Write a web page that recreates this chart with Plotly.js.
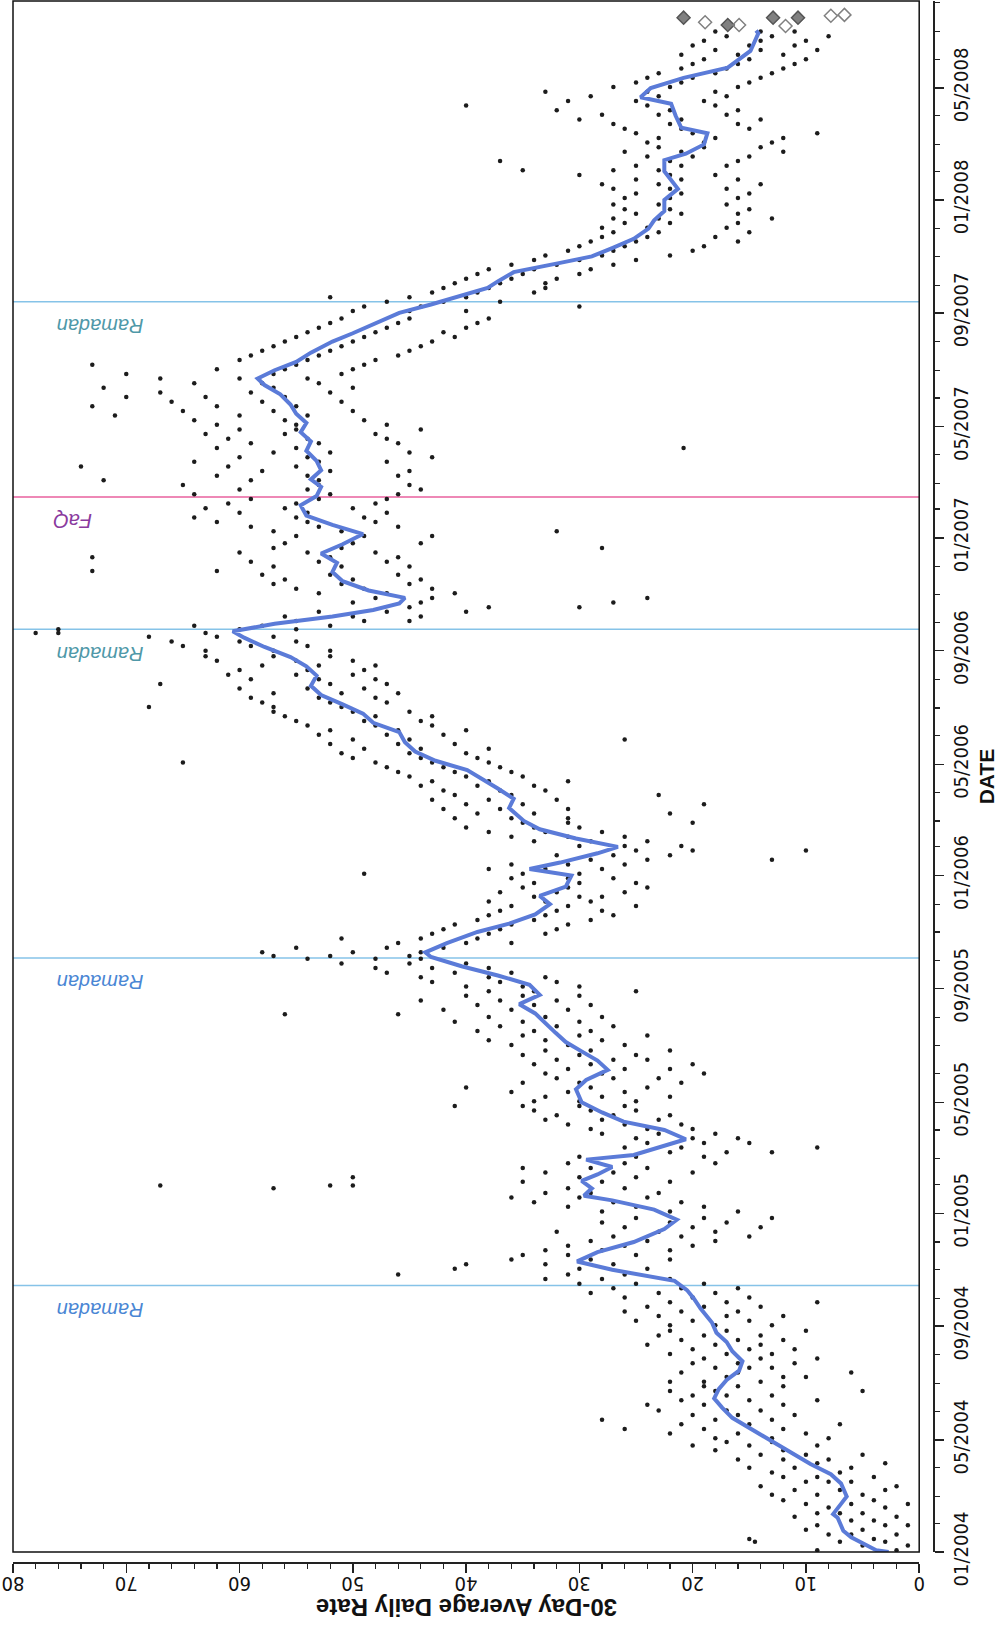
<!DOCTYPE html>
<html>
<head>
<meta charset="utf-8">
<script src="https://cdn.plot.ly/plotly-3.0.1.min.js"></script>
<style>
html,body{margin:0;padding:0;background:#fff;}
#chart{width:1002px;height:1627px;}
</style>
</head>
<body>
<div id="chart"></div>
<script>
// 30-day average (blue line)
const avgDates = [
"2004-01-01","2004-01-03","2004-01-17","2004-01-24","2004-02-07","2004-02-11","2004-02-22","2004-03-01","2004-03-15","2004-03-25",
"2004-04-05","2004-04-15","2004-04-25","2004-05-05","2004-05-15","2004-05-25","2004-06-05","2004-06-15","2004-06-25","2004-07-05",
"2004-07-15","2004-07-25","2004-08-05","2004-08-15","2004-08-25","2004-09-05","2004-09-20","2004-10-01","2004-10-10","2004-10-20",
"2004-11-01","2004-11-10","2004-11-20","2004-12-01","2004-12-15","2004-12-25","2005-01-05","2005-01-15","2005-01-20","2005-01-28",
"2005-02-05","2005-02-12","2005-02-20","2005-02-28","2005-03-05","2005-03-15","2005-03-22","2005-04-01","2005-04-10","2005-04-20",
"2005-05-01","2005-05-15","2005-05-25","2005-06-05","2005-06-15","2005-06-25","2005-07-05","2005-07-15","2005-07-25","2005-08-05",
"2005-08-15","2005-08-25","2005-09-05","2005-09-15","2005-09-25","2005-10-05","2005-10-10","2005-10-20","2005-11-01","2005-11-10",
"2005-11-20","2005-12-01","2005-12-10","2005-12-20","2006-01-01","2006-01-08","2006-01-15","2006-01-25","2006-02-01","2006-02-10",
"2006-02-20","2006-03-01","2006-03-15","2006-03-25","2006-04-05","2006-04-15","2006-04-25","2006-05-05","2006-05-15","2006-05-25",
"2006-06-05","2006-06-15","2006-06-25","2006-07-05","2006-07-15","2006-07-25","2006-08-05","2006-08-15","2006-08-25","2006-09-05",
"2006-09-15","2006-09-22","2006-09-30","2006-10-08","2006-10-15","2006-10-22","2006-10-28","2006-11-05","2006-11-15","2006-11-25",
"2006-12-05","2006-12-15","2006-12-25","2007-01-05","2007-01-15","2007-01-25","2007-02-05","2007-02-15","2007-02-25","2007-03-05",
"2007-03-15","2007-03-25","2007-04-05","2007-04-15","2007-04-25","2007-05-05","2007-05-15","2007-05-25","2007-06-05","2007-06-15",
"2007-06-22","2007-07-01","2007-07-10","2007-07-20","2007-08-01","2007-08-10","2007-08-20","2007-09-01","2007-09-10","2007-09-20",
"2007-09-28","2007-10-05","2007-10-15","2007-10-25","2007-11-01","2007-11-10","2007-11-20","2007-12-01","2007-12-10","2007-12-20",
"2008-01-01","2008-01-13","2008-02-01","2008-02-13","2008-02-20","2008-03-01","2008-03-13","2008-03-19","2008-04-01","2008-04-14",
"2008-04-21","2008-05-01","2008-05-12","2008-05-23","2008-06-10","2008-06-29","2008-07-02"
];
const avgValues = [
2.7,3.8,6.0,6.7,7.2,7.6,6.9,6.4,6.9,7.8,
9.6,11.0,12.4,13.8,15.1,16.5,17.4,18.1,17.7,17.0,
15.9,15.6,16.5,17.0,17.9,18.3,19.3,19.9,20.5,21.6,
27.1,30.2,28.4,25.2,22.5,21.4,23.4,27.1,29.6,28.9,
29.8,28.4,27.1,29.4,25.2,22.5,20.6,22.5,26.1,28.0,
29.8,30.3,29.4,27.5,28.4,29.8,31.2,32.1,33.0,33.9,
35.3,33.5,34.4,37.2,40.4,43.1,43.6,41.7,39.0,36.2,
33.9,32.6,33.5,31.2,30.7,34.4,31.7,28.4,26.6,30.3,
33.5,34.9,36.2,35.8,37.2,38.5,39.9,42.7,44.5,45.4,
45.9,48.2,49.1,50.9,52.8,53.7,53.2,54.1,55.5,57.8,
59.6,60.6,56.9,51.8,48.2,45.9,45.4,48.6,50.9,51.8,
51.4,52.8,50.9,49.1,51.8,54.1,54.6,53.2,52.8,53.7,
52.8,53.2,54.1,53.7,54.6,54.1,55.0,55.5,56.4,57.8,
58.4,56.9,55.0,53.7,51.8,50.0,48.2,45.9,43.1,40.4,
38.1,37.2,35.8,31.7,28.9,27.1,25.2,23.9,23.4,22.5,
22.5,21.3,22.5,22.5,20.6,19.0,18.7,21.0,21.5,21.9,
24.6,23.7,20.8,16.9,14.9,14.2,14.4
];

// daily rates (black dots): each date has a few readings
const dotDates = [
"2004-01-03","2004-01-08","2004-01-12","2004-01-15","2004-01-20","2004-01-25","2004-01-30","2004-02-04","2004-02-08","2004-02-12","2004-02-18","2004-02-22","2004-02-26",
"2004-03-03","2004-03-08","2004-03-12","2004-03-17","2004-03-22","2004-03-27","2004-04-01","2004-04-06","2004-04-10","2004-04-15","2004-04-20","2004-04-25","2004-04-29",
"2004-05-03","2004-05-08","2004-05-13","2004-05-18","2004-05-23","2004-05-28","2004-06-02","2004-06-08","2004-06-13","2004-06-18","2004-06-23","2004-06-28",
"2004-07-03","2004-07-08","2004-07-13","2004-07-18","2004-07-23","2004-07-28","2004-08-02","2004-08-07","2004-08-12","2004-08-17","2004-08-22","2004-08-27",
"2004-09-02","2004-09-07","2004-09-12","2004-09-17","2004-09-22","2004-09-27","2004-10-02","2004-10-07","2004-10-12","2004-10-17","2004-10-22","2004-10-27",
"2004-11-02","2004-11-07","2004-11-12","2004-11-17","2004-11-22","2004-11-27","2004-12-02","2004-12-07","2004-12-12","2004-12-17","2004-12-22","2004-12-27",
"2005-01-03","2005-01-08","2005-01-13","2005-01-18","2005-01-23","2005-01-28","2005-01-31","2005-02-04","2005-02-09","2005-02-14","2005-02-19","2005-02-24",
"2005-03-03","2005-03-08","2005-03-13","2005-03-18","2005-03-23","2005-03-28","2005-04-02","2005-04-07","2005-04-12","2005-04-17","2005-04-22","2005-04-27",
"2005-05-02","2005-05-07","2005-05-12","2005-05-17","2005-05-22","2005-05-27","2005-06-01","2005-06-06","2005-06-11","2005-06-16","2005-06-21","2005-06-26",
"2005-07-02","2005-07-07","2005-07-12","2005-07-17","2005-07-22","2005-07-27","2005-08-01","2005-08-04","2005-08-09","2005-08-14","2005-08-19","2005-08-24","2005-08-29",
"2005-09-03","2005-09-08","2005-09-13","2005-09-18","2005-09-23","2005-09-28","2005-10-03","2005-10-06","2005-10-10","2005-10-15","2005-10-20","2005-10-25","2005-10-30",
"2005-11-04","2005-11-09","2005-11-14","2005-11-19","2005-11-24","2005-11-29","2005-12-04","2005-12-09","2005-12-14","2005-12-19","2005-12-24","2005-12-29",
"2006-01-03","2006-01-08","2006-01-13","2006-01-18","2006-01-23","2006-01-28","2006-02-02","2006-02-07","2006-02-12","2006-02-17","2006-02-22","2006-02-27",
"2006-03-04","2006-03-09","2006-03-14","2006-03-19","2006-03-24","2006-03-29","2006-04-03","2006-04-08","2006-04-13","2006-04-18","2006-04-23","2006-04-28",
"2006-05-03","2006-05-08","2006-05-13","2006-05-18","2006-05-23","2006-05-28","2006-06-02","2006-06-07","2006-06-12","2006-06-17","2006-06-22","2006-06-27",
"2006-07-02","2006-07-07","2006-07-12","2006-07-17","2006-07-22","2006-07-27","2006-08-01","2006-08-06","2006-08-11","2006-08-16","2006-08-21","2006-08-26",
"2006-09-01","2006-09-06","2006-09-11","2006-09-16","2006-09-20","2006-09-24","2006-09-28","2006-10-03","2006-10-08","2006-10-13","2006-10-18","2006-10-23","2006-10-28",
"2006-11-02","2006-11-07","2006-11-12","2006-11-17","2006-11-22","2006-11-26","2006-12-01","2006-12-06","2006-12-11","2006-12-16","2006-12-21","2006-12-26",
"2007-01-03","2007-01-08","2007-01-13","2007-01-18","2007-01-23","2007-01-28","2007-02-02","2007-02-07","2007-02-12","2007-02-17","2007-02-22","2007-02-27",
"2007-03-04","2007-03-09","2007-03-14","2007-03-19","2007-03-24","2007-03-29","2007-04-03","2007-04-08","2007-04-13","2007-04-18","2007-04-23","2007-04-28",
"2007-05-03","2007-05-08","2007-05-13","2007-05-18","2007-05-23","2007-05-28","2007-06-02","2007-06-07","2007-06-12","2007-06-17","2007-06-22","2007-06-27",
"2007-07-02","2007-07-07","2007-07-12","2007-07-17","2007-07-22","2007-07-27","2007-08-01","2007-08-06","2007-08-11","2007-08-16","2007-08-21","2007-08-26",
"2007-09-03","2007-09-08","2007-09-13","2007-09-18","2007-09-23","2007-09-28","2007-10-03","2007-10-08","2007-10-13","2007-10-18","2007-10-23","2007-10-28",
"2007-11-02","2007-11-07","2007-11-12","2007-11-17","2007-11-22","2007-11-27","2007-12-02","2007-12-07","2007-12-12","2007-12-17","2007-12-22","2007-12-27",
"2008-01-03","2008-01-08","2008-01-13","2008-01-18","2008-01-23","2008-01-28","2008-02-02","2008-02-07","2008-02-12","2008-02-17","2008-02-22","2008-02-27",
"2008-03-03","2008-03-08","2008-03-13","2008-03-18","2008-03-23","2008-03-28","2008-04-02","2008-04-07","2008-04-12","2008-04-17","2008-04-22","2008-04-27",
"2008-05-02","2008-05-07","2008-05-12","2008-05-17","2008-05-22","2008-05-27","2008-06-01","2008-06-06","2008-06-11","2008-06-16","2008-06-21","2008-06-26","2008-07-01"
];
const dotValues = [
[2,9],[5,1],[3,7,14.5],[15,4],[8,2,6],[5,10],[3,9,1],[6,4],[11,2],[7,5,9],[3,8],[6,10,1],[4,12],
[5,9,13],[7,3,11],[2,14],[8,6,10],[4,12,9],[13,7],[6,11,15],[3,9],[12,16,8],[10,14,5],[18,12],[9,15,20],[13,17],
[13,18,8],[16,22,10],[12,19,26],[15,21,7],[18,28,13],[20,16,11],[17,23,14],[19,12,24],[21,15,9],[17,20,13],[22,18,5],[16,19,12],
[14,19,22],[12,17,10],[16,21,6],[13,18,15],[11,16,20],[14,19,9],[17,22,13],[15,20,11],[18,14,24],[16,21,12],[19,14,23],[17,22,10],
[18,22,13],[20,15,25],[17,23,12],[21,16,26],[19,24,14],[22,17,9],[20,26,15],[23,18,29],[21,27,16],[25,30,19],[28,22,33],[26,31,46],
[30,41,24],[33,27,40],[29,36,22],[31,25,35],[28,22,33],[26,20,31],[24,29,18],[27,21,15],[23,32,18],[20,26,14],[22,17,28],[19,25,13],
[22,28,16],[25,31,19],[27,34,21],[30,24,36],[29,33,23],[57,31,26],[67,52,50],[28,35,22],[30,25,50],[27,33,20],[29,24,35],[26,31,18],
[25,19,30],[22,17,13],[21,26,9],[19,24,15],[20,16,25],[23,28,18],[24,20,29],[26,31,21],[28,23,33],[27,32,22],[29,25,34],[30,26,35,41],
[30,34,25],[28,33,22],[31,36,26],[29,24,40],[30,35,21],[27,32,23],[28,33,19],[26,31,22],[29,34,20],[27,32,24],[30,35,25],[29,33,22],
[31,36,26],[33,28,38],[30,35,24],[34,29,39],[32,37,27],[35,30,41],[33,38,28],[56,46],[36,31,42],[34,39,29],[37,32,44],[35,30,40],[34,38,25],
[35,40,30],[37,32,43],[38,44,33],[41,36,47],[43,48,38],[45,40,51],[48,44,54],[57,52,45],[44,50,58],[42,47,55],[40,46,36],[39,44,51],[38,43,33],
[37,42,32],[36,31,41],[34,39,29],[33,38,27],[32,28,37],[31,36,25],[33,29,38],[34,30,28],[32,37,26],[31,35,24],[30,34,25],[31,27,36],
[30,35,49],[33,28,38],[31,26,36],[29,24,13],[27,22,32],[25,20,10],[26,30,21],[29,34,24],[31,36,26],[33,28,38],[34,30,40],[35,31,20],
[36,41,31],[34,39,22],[37,42,31],[35,40,19],[38,43,32],[36,41,23],[37,42,33],[39,44,34],[38,43,31],[40,45,35],[41,46,36],[42,47,37],
[43,48,38,65],[44,50,39],[45,51,40],[44,49,38],[46,52,41],[45,26,50],[47,53,42],[46,52,40],[48,54,43],[49,55,44],[48,56,43],[50,57,45],
[51,57,68],[52,47,58],[53,59,48],[51,57,46],[54,60,49],[52,67,47],[53,59,48],[55,61,50],[54,60,49],[53,58,48],[55,62,50],[57,63,52],
[57,63,52],[59,65,54],[60,66,55],[62,57,68],[78,76,63],[76,60,55],[58,52,64],[55,49,45],[50,44,56],[47,40,53],[45,38,30],[44,27,50],[43,24,48],
[47,53,41],[49,55,43],[51,57,45],[50,56,44],[52,58,46],[73,62],[51,57,45],[53,59,47],[52,73,46],[54,60,48],[51,57,28],[50,56,44],
[49,55,43],[51,57,32],[53,59,46],[54,62,48],[55,64,49],[54,60,47],[56,63,50],[55,61,48],[53,59,47],[52,64,46],[54,60,44],[53,65,45],
[53,59,72],[54,62,46],[52,58,45],[55,61,74],[53,64,47],[54,60,43],[52,57,45],[55,62,20.8],[53,59,46],[54,61,47],[56,63,48],[55,60,44],
[55,62,47],[56,64,49],[54,60,71],[57,65,50],[55,62,73],[58,66,51],[56,63,70],[59,67,52],[57,72,50],[58,64,53],[60,67,54],[57,70,51],
[56,62,50],[55,73,49],[54,60,48],[53,59,46],[52,58,45],[51,57,44],[50,56,43],[49,55,41],[48,54,42],[47,53,40],[46,52,39],[45,51,38],
[45,50,40],[44,49,30],[42,47,37],[40,45,52],[39,43,34],[38,42,33],[37,41,33],[36,40,32],[35,39,30],[34,38,29],[32,36,27],[30,34,25],
[28,33,22],[27,31,20],[26,30,19],[25,29,16],[24,28,18],[23,27,15],[24,28,17],[22,26,16],[23,27,13],[21,25,16],[22,26,15],[23,27,17],
[22,26,16],[21,25,15],[22,27,17],[23,28,14],[21,25,16],[22,30,18],[23,27,35],[21,25,17],[22,37,16],[20,24,15],[21,26,12],[19,23,14],
[19,24,13],[18,23,12],[20,25,9],[21,26,15],[22,27,16],[21,30,14],[23,28,17],[22,32,16],[24,40,18],[25,31,19],[23,29,17],[24,33,18],
[22,27,16],[21,25,15],[20,24,14],[18,23,13],[17,21,12],[16,20,11],[15,19,10],[16,21,12],[14,18,9],[15,20,11],[14,19,10],[13,17,8],[14,18,11]
];

// most recent partial readings (diamonds)
const diamondDates = ["2008-07-16","2008-07-11","2008-07-08","2008-07-08","2008-07-16","2008-07-16","2008-07-07","2008-07-18","2008-07-19"];
const diamondValues = [20.8,18.9,16.9,15.9,12.9,10.7,11.8,7.8,6.6];
const diamondFilled = [true,false,true,false,true,true,false,false,false];

// event markers
const eventDates = ["2004-10-15","2005-10-04","2006-09-24","2007-02-14","2007-09-13"];
const eventLabels = ["Ramadan","Ramadan","Ramadan","FaQ","Ramadan"];
const eventLineColors = ["#86c3e8","#86c3e8","#86c3e8","#e8609e","#86c3e8"];
const eventTextColors = ["#4a86d4","#4a86d4","#4f98a8","#8a3a9e","#4f98a8"];

const xTickVals = [0,10,20,30,40,50,60,70,80];

const dX = [], dY = [];
dotDates.forEach((d, i) => dotValues[i].forEach(v => { dX.push(v); dY.push(d); }));

const fontNarrow = '"Liberation Sans Narrow", "DejaVu Sans Condensed", "Liberation Sans", Arial, sans-serif';

const traces = [
  {
    type: 'scatter', mode: 'markers', x: dX, y: dY,
    marker: {color: '#1c1c1c', size: 4.5},
    hoverinfo: 'skip', showlegend: false
  },
  {
    type: 'scatter', mode: 'lines', x: avgValues, y: avgDates,
    line: {color: '#5b7bd8', width: 4},
    showlegend: false
  },
  {
    type: 'scatter', mode: 'markers',
    x: diamondValues, y: diamondDates,
    marker: {
      symbol: diamondFilled.map(f => f ? 'diamond' : 'diamond-open'),
      size: 10, color: '#808080', line: {color: '#555', width: 1.5}
    },
    showlegend: false
  }
];

const shapes = [
  {type: 'rect', xref: 'x domain', yref: 'y domain', x0: 0, x1: 1, y0: 0, y1: 1,
   line: {color: '#111', width: 1.5}, layer: 'above'}
];
eventDates.forEach((d, i) => {
  shapes.push({type: 'line', xref: 'x domain', yref: 'y', x0: 0, x1: 1, y0: d, y1: d,
    line: {color: eventLineColors[i], width: 1.5}, layer: 'below'});
});

const annotations = eventDates.map((d, i) => ({
  x: eventLabels[i] === 'FaQ' ? 74.7 : 72.3, y: d, xref: 'x', yref: 'y',
  text: '<i>' + eventLabels[i] + '</i>', showarrow: false, textangle: 180,
  yshift: -24, xanchor: 'center', yanchor: 'middle',
  font: {family: '"Liberation Sans", Arial, sans-serif', size: 20, color: eventTextColors[i]}
}));
annotations.push({
  x: 0.4935, y: -0.0295, xref: 'paper', yref: 'paper',
  text: '<b>30-Day Average Daily Rate</b>', showarrow: false, textangle: 180,
  xanchor: 'center', yanchor: 'middle',
  font: {family: '"Liberation Sans", Arial, sans-serif', size: 24, color: '#111'}
});

const layout = {
  width: 1002, height: 1627,
  margin: {l: 13, r: 69, t: 1, b: 65, pad: 0},
  paper_bgcolor: '#fff', plot_bgcolor: '#fff',
  showlegend: false,
  xaxis: {
    range: [80, 0], domain: [0, 0.985], anchor: 'free', position: 0,
    showgrid: false, zeroline: false, showline: true, linecolor: '#222', linewidth: 1.5,
    ticks: 'outside', ticklen: 9, tickwidth: 1.5, tickcolor: '#222',
    tickvals: xTickVals, ticktext: xTickVals.map(String), tickangle: 180,
    minor: {dtick: 2, ticks: 'outside', ticklen: 5, tickwidth: 1.2, tickcolor: '#222'},
    tickfont: {family: fontNarrow, size: 20, color: '#111'}
  },
  yaxis: {
    type: 'date', range: ['2004-01-01', '2008-08-03'], domain: [0.0064, 1],
    side: 'right', anchor: 'free', position: 1,
    showgrid: false, zeroline: false, showline: true, linecolor: '#222', linewidth: 1.5,
    ticks: 'outside', ticklen: 9, tickwidth: 1.5, tickcolor: '#222',
    tick0: '2004-01-01', dtick: 'M4', tickformat: '%m/%Y', tickangle: -90,
    minor: {dtick: 'M1', ticks: 'outside', ticklen: 5, tickwidth: 1.2, tickcolor: '#222'},
    tickfont: {family: fontNarrow, size: 20, color: '#111'},
    title: {text: '<b>DATE</b>', font: {family: '"Liberation Sans", Arial, sans-serif', size: 21, color: '#111'}, standoff: 8}
  },
  shapes: shapes,
  annotations: annotations
};

Plotly.newPlot('chart', traces, layout, {displayModeBar: false, staticPlot: true});
</script>
</body>
</html>
